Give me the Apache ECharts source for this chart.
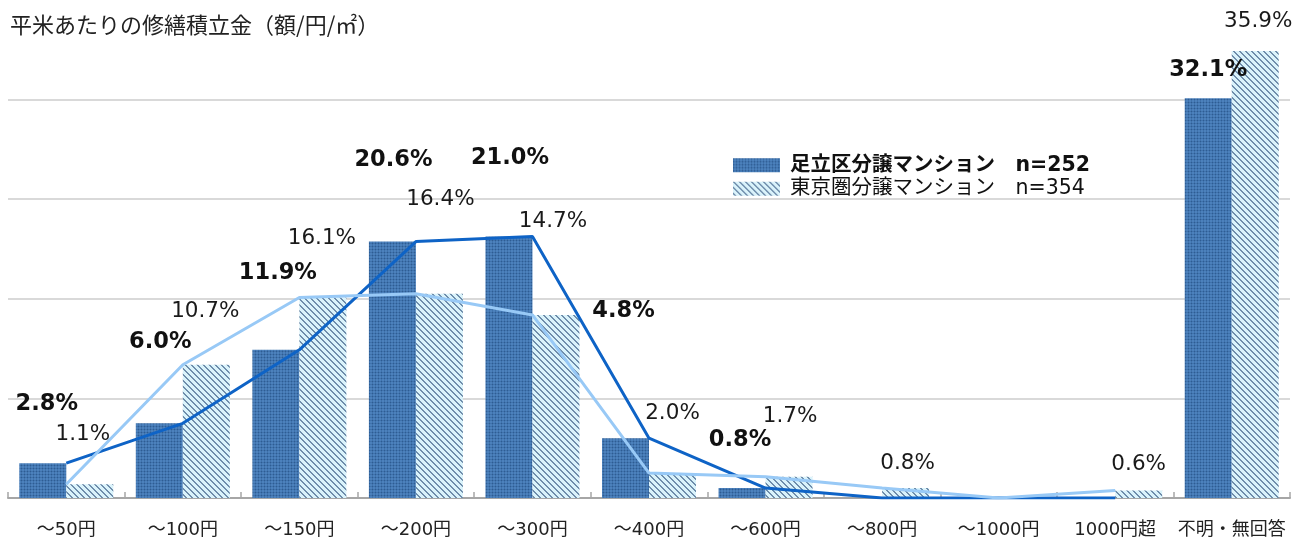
<!DOCTYPE html>
<html>
<head>
<meta charset="utf-8">
<script src="https://cdn.jsdelivr.net/npm/echarts@6/dist/echarts.min.js"></script>
<style>
  html, body { margin: 0; padding: 0; background: #ffffff; }
  #chart { width: 1299px; height: 544px; }
</style>
</head>
<body>
<div id="chart"></div>
<script>
// ---- data ----
const categories = ['～50円', '～100円', '～150円', '～200円', '～300円', '～400円', '～600円', '～800円', '～1000円', '1000円超', '不明・無回答'];
const adachiValues = [2.8, 6.0, 11.9, 20.6, 21.0, 4.8, 0.8, 0, 0, 0, 32.1];
const tokyoValues  = [1.1, 10.7, 16.1, 16.4, 14.7, 2.0, 1.7, 0.8, 0, 0.6, 35.9];
const adachiName = '足立区分譲マンション　n=252';
const tokyoName  = '東京圏分譲マンション　n=354';
const chartTitle = '平米あたりの修繕積立金（額/円/㎡）';
const yAxisMin = 0, yAxisMax = 40, yAxisStep = 8;

// ---- label placement (pixel shifts of each value label from its bar top) ----
const adachiLabelShift = [[4, -59], [1, -81], [2, -77], [1, -81], [1, -78], [-2, -127], [-2, -48], null, null, null, [0, -28]];
const tokyoLabelShift  = [[-7, -50], [-1, -53], [-1, -59], [1, -94], [-3, -94], [0, -60], [1, -60], [2, -25], null, [0, -26], [3, -30]];

const LATIN = "'DejaVu Sans', 'Noto Sans CJK JP', sans-serif";
const CJK = "'Noto Sans CJK JP', sans-serif";
const LABEL_LINE = 22;

// fill patterns for the two bar series
function makeTile(size, paint) {
  const c = document.createElement('canvas');
  c.width = size; c.height = size;
  const ctx = c.getContext('2d');
  for (let y = 0; y < size; y++) {
    for (let x = 0; x < size; x++) {
      ctx.fillStyle = paint(x, y);
      ctx.fillRect(x, y, 1, 1);
    }
  }
  return c;
}
const dottedTile = makeTile(3, (x, y) => {
  if (x === 0 && y === 0) return '#2e5c92';
  if (x === 0 || y === 0) return '#3f72ac';
  return '#4c81bc';
});
const hatchTile = makeTile(6, (x, y) => {
  const d = ((x - y) % 6 + 6) % 6;
  if (d === 0 || d === 1) return '#6f8dab';
  return '#daf3fb';
});
const dottedFill = { image: dottedTile, repeat: 'repeat' };
const hatchFill = { image: hatchTile, repeat: 'repeat' };

function barData(values, shifts) {
  return values.map((v, i) => {
    const s = shifts[i] || [0, 0];
    return {
      value: v,
      label: { show: v > 0, offset: [s[0], s[1] + LABEL_LINE / 2] }
    };
  });
}
// trend lines cover every bracket except the last (unknown) one
function lineData(values) {
  return values.map((v, i) => (i < categories.length - 1 ? v : null));
}

const chart = echarts.init(document.getElementById('chart'), null, { renderer: 'canvas' });

chart.setOption({
  animation: false,
  backgroundColor: '#ffffff',
  title: {
    text: chartTitle,
    left: 10,
    top: 12,
    padding: 0,
    textStyle: { fontFamily: CJK, fontSize: 22, fontWeight: 'normal', color: '#222222', lineHeight: 26 }
  },
  legend: {
    orient: 'vertical',
    left: 733,
    top: 155,
    padding: 0,
    itemWidth: 47,
    itemHeight: 14,
    itemGap: 3,
    icon: 'rect',
    textStyle: { fontFamily: LATIN, fontSize: 20.5, color: '#111111', lineHeight: 20, padding: [0, 0, 0, 5] },
    data: [
      { name: adachiName, textStyle: { fontWeight: 'bold' } },
      { name: tokyoName, textStyle: { fontWeight: 'normal' } }
    ]
  },
  grid: { left: 8, right: 9, top: -1, bottom: 46, containLabel: false },
  xAxis: {
    type: 'category',
    data: categories,
    boundaryGap: true,
    axisLine: { show: true, lineStyle: { color: '#a6a6a6', width: 2 } },
    axisTick: { show: true, inside: true, length: 6, lineStyle: { color: '#a6a6a6', width: 1.5 } },
    axisLabel: { margin: 23, fontFamily: LATIN, fontSize: 18, color: '#222222', interval: 0 },
    splitLine: { show: false }
  },
  yAxis: {
    type: 'value',
    min: yAxisMin,
    max: yAxisMax,
    interval: yAxisStep,
    axisLine: { show: false },
    axisTick: { show: false },
    axisLabel: { show: false },
    splitLine: { show: true, showMaxLine: false, lineStyle: { color: '#cccccc', width: 1.5 } }
  },
  series: [
    {
      name: adachiName,
      type: 'bar',
      barWidth: 47,
      barGap: '0%',
      itemStyle: { color: dottedFill },
      label: {
        position: 'top',
        distance: 0,
        fontFamily: LATIN,
        fontSize: 22.5,
        fontWeight: 'bold',
        lineHeight: LABEL_LINE,
        color: '#111111',
        formatter: p => p.value.toFixed(1) + '%'
      },
      data: barData(adachiValues, adachiLabelShift),
      z: 2
    },
    {
      name: tokyoName,
      type: 'bar',
      barWidth: 47,
      barGap: '0%',
      itemStyle: { color: hatchFill },
      label: {
        position: 'top',
        distance: 0,
        fontFamily: LATIN,
        fontSize: 21.5,
        fontWeight: 'normal',
        lineHeight: LABEL_LINE,
        color: '#1a1a1a',
        formatter: p => p.value.toFixed(1) + '%'
      },
      data: barData(tokyoValues, tokyoLabelShift),
      z: 2
    },
    {
      name: adachiName + ' 推移',
      type: 'line',
      data: lineData(adachiValues),
      symbol: 'none',
      lineStyle: { color: '#0e63c6', width: 3 },
      itemStyle: { color: '#0e63c6' },
      z: 3,
      silent: true
    },
    {
      name: tokyoName + ' 推移',
      type: 'line',
      data: lineData(tokyoValues),
      symbol: 'none',
      lineStyle: { color: '#98c9f6', width: 3 },
      itemStyle: { color: '#98c9f6' },
      z: 4,
      silent: true
    }
  ]
});
</script>
</body>
</html>
